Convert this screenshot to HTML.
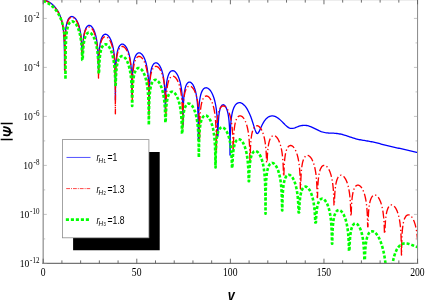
<!DOCTYPE html>
<html><head><meta charset="utf-8"><style>
html,body{margin:0;padding:0;background:#fff;}
svg{display:block;will-change:transform;opacity:0.999;}
.ser{font-family:"Liberation Serif",serif;fill:#000;}
.san{font-family:"Liberation Sans",sans-serif;fill:#000;}
</style></head><body>
<svg width="425" height="300" viewBox="0 0 425 300">
<rect width="425" height="300" fill="#fff"/>
<defs><clipPath id="c"><rect x="43.2" y="0" width="374.35" height="263.4"/></clipPath></defs>
<g clip-path="url(#c)" fill="none" stroke-linejoin="round">
<path d="M43.20 -0.49L44.25 -0.19L45.30 0.17L46.35 0.59L47.40 1.08L48.45 1.64L49.50 2.27L50.55 2.98L51.60 3.78L52.65 4.68L53.70 5.68L54.75 6.80L55.80 8.07L56.85 9.52L57.90 11.19L58.95 13.14L60.00 15.50L61.05 18.45L61.75 20.93L62.25 23.10L62.60 24.90L62.85 26.39L63.05 27.74L63.20 28.87L63.35 30.12L63.45 31.05L63.55 32.05L63.65 33.16L63.75 34.39L63.80 35.06L63.85 35.78L63.90 36.54L63.95 37.36L64.00 38.25L64.05 39.22L64.10 40.28L64.15 41.46L64.20 42.78L64.25 44.29L64.30 46.04L64.35 48.13L64.40 50.72L64.45 54.15L64.50 59.23L64.55 70.00L64.60 70.00L64.65 59.38L64.70 53.29L64.75 49.46L64.80 46.66L64.85 44.47L64.90 42.65L64.95 41.12L65.00 39.78L65.05 38.60L65.10 37.55L65.15 36.59L65.20 35.72L65.25 34.93L65.30 34.19L65.35 33.50L65.40 32.86L65.50 31.70L65.60 30.67L65.70 29.74L65.85 28.51L66.00 27.44L66.20 26.19L66.45 24.86L66.80 23.32L67.25 21.75L67.95 19.94L69.00 18.14L70.05 17.10L71.10 16.59L72.15 16.51L73.20 16.80L74.25 17.45L75.30 18.45L76.35 19.85L77.40 21.72L78.45 24.22L79.20 26.56L79.75 28.70L80.15 30.58L80.45 32.24L80.70 33.84L80.90 35.31L81.05 36.55L81.20 37.95L81.30 38.99L81.40 40.14L81.50 41.42L81.55 42.13L81.60 42.87L81.65 43.68L81.70 44.54L81.75 45.48L81.80 46.50L81.85 47.63L81.90 48.90L81.95 50.32L82.00 51.96L82.05 53.90L82.10 55.00L82.50 55.00L82.55 54.44L82.60 52.49L82.65 50.86L82.70 49.45L82.75 48.21L82.80 47.10L82.85 46.11L82.90 45.20L82.95 44.37L83.00 43.60L83.05 42.89L83.10 42.23L83.20 41.02L83.30 39.95L83.40 38.99L83.55 37.72L83.70 36.60L83.90 35.30L84.15 33.92L84.50 32.32L84.95 30.69L85.60 28.90L86.55 27.13L87.60 25.97L88.65 25.43L89.70 25.41L90.75 25.86L91.80 26.78L92.85 28.18L93.90 30.16L94.85 32.60L95.55 34.93L96.05 36.99L96.40 38.71L96.70 40.43L96.95 42.08L97.15 43.61L97.30 44.90L97.40 45.85L97.50 46.89L97.60 48.03L97.70 49.30L97.75 49.99L97.80 50.73L97.85 51.51L97.90 52.36L97.95 53.28L98.00 54.28L98.05 55.37L98.10 56.59L98.15 57.95L98.20 59.51L98.25 61.33L98.30 63.52L98.35 66.25L98.40 69.91L98.45 70.00L98.60 70.00L98.65 69.67L98.70 66.18L98.75 63.56L98.80 61.48L98.85 59.74L98.90 58.26L98.95 56.97L99.00 55.82L99.05 54.79L99.10 53.86L99.15 53.01L99.20 52.23L99.25 51.50L99.30 50.83L99.40 49.61L99.50 48.53L99.60 47.56L99.70 46.69L99.85 45.52L100.05 44.17L100.30 42.76L100.60 41.34L101.00 39.81L101.60 38.06L102.50 36.25L103.55 34.97L104.60 34.34L105.65 34.20L106.70 34.50L107.75 35.21L108.80 36.34L109.85 37.93L110.90 40.08L111.85 42.66L112.50 44.92L113.00 47.06L113.35 48.84L113.65 50.62L113.85 51.98L114.05 53.53L114.20 54.84L114.30 55.80L114.40 56.86L114.50 58.02L114.60 59.31L114.65 60.02L114.70 60.77L114.75 61.57L114.80 62.44L114.85 63.38L114.90 64.41L114.95 65.54L115.00 66.81L115.05 68.23L115.10 69.87L115.15 71.79L115.20 74.13L115.25 77.11L115.30 81.24L115.35 88.03L115.40 100.00L115.45 100.00L115.50 82.71L115.55 78.18L115.60 75.04L115.65 72.62L115.70 70.67L115.75 69.03L115.80 67.62L115.85 66.38L115.90 65.27L115.95 64.28L116.00 63.38L116.05 62.55L116.10 61.79L116.15 61.08L116.20 60.42L116.30 59.23L116.40 58.17L116.50 57.22L116.65 55.97L116.80 54.87L117.00 53.60L117.25 52.25L117.60 50.70L118.05 49.12L118.70 47.41L119.70 45.67L120.75 44.63L121.80 44.18L122.85 44.20L123.90 44.66L124.95 45.53L126.00 46.84L127.05 48.67L128.10 51.14L128.85 53.47L129.40 55.59L129.80 57.45L130.10 59.09L130.35 60.66L130.55 62.09L130.70 63.30L130.85 64.66L130.95 65.66L131.05 66.76L131.15 67.97L131.20 68.64L131.25 69.34L131.30 70.09L131.35 70.89L131.40 71.76L131.45 72.70L131.50 73.72L131.55 74.85L131.60 76.11L131.65 77.54L131.70 79.17L131.75 81.10L131.80 83.44L131.85 86.43L131.90 90.58L131.95 95.00L132.05 95.00L132.10 91.89L132.15 87.39L132.20 84.25L132.25 81.84L132.30 79.89L132.35 78.25L132.40 76.83L132.45 75.59L132.50 74.48L132.55 73.49L132.60 72.58L132.65 71.75L132.70 70.99L132.75 70.28L132.80 69.62L132.90 68.42L133.00 67.35L133.10 66.40L133.25 65.13L133.40 64.02L133.60 62.74L133.85 61.37L134.20 59.79L134.65 58.18L135.30 56.42L136.30 54.60L137.35 53.48L138.40 52.94L139.45 52.88L140.50 53.23L141.55 53.99L142.60 55.17L143.65 56.81L144.70 59.03L145.65 61.69L146.30 64.04L146.75 66.02L147.10 67.85L147.35 69.36L147.55 70.73L147.70 71.88L147.85 73.15L147.95 74.09L148.05 75.10L148.15 76.22L148.25 77.46L148.30 78.13L148.35 78.85L148.40 79.61L148.45 80.43L148.50 81.31L148.55 82.27L148.60 83.32L148.65 84.48L148.70 85.78L148.75 87.25L148.80 88.94L148.85 90.95L148.90 93.41L148.95 96.59L149.00 101.13L149.05 110.00L149.10 110.00L149.15 106.96L149.20 100.13L149.25 96.02L149.30 93.08L149.35 90.79L149.40 88.92L149.45 87.34L149.50 85.97L149.55 84.76L149.60 83.69L149.65 82.71L149.70 81.83L149.75 81.02L149.80 80.27L149.85 79.57L149.90 78.93L150.00 77.75L150.10 76.70L150.20 75.77L150.35 74.52L150.50 73.43L150.70 72.17L150.95 70.83L151.30 69.29L151.75 67.72L152.40 66.01L153.40 64.28L154.45 63.26L155.50 62.83L156.55 62.89L157.60 63.39L158.65 64.33L159.70 65.73L160.75 67.70L161.75 70.25L162.45 72.59L162.95 74.68L163.30 76.42L163.60 78.17L163.80 79.51L164.00 81.04L164.15 82.34L164.25 83.29L164.35 84.34L164.45 85.49L164.55 86.77L164.60 87.47L164.65 88.22L164.70 89.02L164.75 89.89L164.80 90.82L164.85 91.85L164.90 92.98L164.95 94.24L165.00 95.66L165.05 97.29L165.10 99.22L165.15 101.56L165.20 104.55L165.25 108.70L165.30 110.00L165.40 110.00L165.45 109.96L165.50 105.47L165.55 102.33L165.60 99.93L165.65 97.97L165.70 96.33L165.75 94.91L165.80 93.67L165.85 92.56L165.90 91.57L165.95 90.66L166.00 89.83L166.05 89.06L166.10 88.35L166.15 87.69L166.25 86.49L166.35 85.42L166.45 84.46L166.60 83.19L166.75 82.07L166.95 80.78L167.20 79.40L167.55 77.81L168.00 76.18L168.65 74.40L169.65 72.54L170.70 71.36L171.75 70.77L172.80 70.63L173.85 70.91L174.90 71.56L175.95 72.61L177.00 74.08L178.05 76.04L179.10 78.64L179.90 81.23L180.45 83.45L180.85 85.39L181.15 87.09L181.40 88.72L181.60 90.21L181.75 91.46L181.90 92.87L182.00 93.91L182.10 95.06L182.20 96.33L182.25 97.02L182.30 97.76L182.35 98.55L182.40 99.40L182.45 100.31L182.50 101.31L182.55 102.41L182.60 103.62L182.65 104.98L182.70 106.54L182.75 108.35L182.80 110.52L182.85 113.23L182.90 116.85L182.95 122.33L183.00 125.00L183.05 125.00L183.10 122.35L183.15 116.96L183.20 113.42L183.25 110.79L183.30 108.69L183.35 106.95L183.40 105.46L183.45 104.16L183.50 103.02L183.55 101.99L183.60 101.06L183.65 100.21L183.70 99.43L183.75 98.70L183.80 98.03L183.90 96.82L184.00 95.74L184.10 94.78L184.20 93.92L184.35 92.76L184.55 91.43L184.80 90.04L185.10 88.65L185.50 87.16L186.05 85.58L186.90 83.91L187.95 82.69L189.00 82.16L190.05 82.18L191.10 82.69L192.15 83.68L193.20 85.21L194.25 87.39L195.05 89.63L195.65 91.78L196.05 93.54L196.35 95.08L196.60 96.56L196.80 97.91L196.95 99.05L197.10 100.31L197.20 101.25L197.30 102.27L197.40 103.39L197.50 104.64L197.55 105.32L197.60 106.05L197.65 106.83L197.70 107.67L197.75 108.58L197.80 109.57L197.85 110.66L197.90 111.88L197.95 113.24L198.00 114.80L198.05 116.62L198.10 118.81L198.15 121.56L198.20 125.27L198.25 130.99L198.30 140.00L198.35 140.00L198.40 129.79L198.45 124.62L198.50 121.16L198.55 118.57L198.60 116.49L198.65 114.76L198.70 113.28L198.75 111.98L198.80 110.83L198.85 109.80L198.90 108.86L198.95 108.00L199.00 107.21L199.05 106.48L199.10 105.80L199.20 104.57L199.30 103.47L199.40 102.49L199.50 101.60L199.65 100.40L199.85 99.02L200.10 97.56L200.40 96.09L200.80 94.48L201.40 92.61L202.30 90.61L203.35 89.10L204.40 88.21L205.45 87.78L206.50 87.75L207.55 88.06L208.60 88.70L209.65 89.68L210.70 91.01L211.75 92.73L212.80 94.93L213.85 97.75L214.65 100.48L215.20 102.79L215.60 104.77L215.90 106.49L216.15 108.13L216.35 109.61L216.50 110.85L216.65 112.22L216.75 113.23L216.85 114.33L216.95 115.54L217.05 116.89L217.10 117.62L217.15 118.41L217.20 119.25L217.25 120.15L217.30 121.14L217.35 122.21L217.40 123.40L217.45 124.72L217.50 126.22L217.55 127.94L217.60 129.99L217.65 132.51L217.70 135.77L217.75 136.00L217.95 136.00L218.00 134.84L218.05 131.97L218.10 129.73L218.15 127.90L218.20 126.35L218.25 125.01L218.30 123.83L218.35 122.78L218.40 121.84L218.45 120.97L218.50 120.19L218.55 119.46L218.60 118.78L218.65 118.16L218.75 117.02L218.85 116.02L218.95 115.12L219.10 113.94L219.25 112.91L219.45 111.73L219.70 110.50L220.05 109.10L220.50 107.72L221.15 106.33L222.05 105.20L223.10 104.74L224.15 105.04L225.20 106.06L226.15 107.66L226.90 109.52L227.45 111.33L227.85 112.98L228.15 114.47L228.40 115.93L228.60 117.28L228.75 118.43L228.90 119.73L229.00 120.70L229.10 121.78L229.20 122.98L229.25 123.64L229.30 124.34L229.35 125.09L229.40 125.90L229.45 126.78L229.50 127.74L229.55 128.79L229.60 129.96L229.65 131.28L229.70 132.78L229.75 134.53L229.80 136.64L229.85 139.26L229.90 142.75L229.95 147.98L230.00 155.00L230.05 155.00L230.10 149.06L230.15 143.40L230.20 139.73L230.25 137.00L230.30 134.84L230.35 133.04L230.40 131.50L230.45 130.16L230.50 128.97L230.55 127.90L230.60 126.93L230.65 126.04L230.70 125.23L230.75 124.47L230.80 123.76L230.90 122.47L231.00 121.33L231.10 120.30L231.20 119.37L231.35 118.11L231.55 116.66L231.80 115.09L232.10 113.51L232.50 111.75L233.10 109.66L234.00 107.34L235.05 105.44L236.10 104.15L237.15 103.30L238.20 102.81L239.25 102.63L240.30 102.72L241.35 103.05L242.40 103.62L243.45 104.42L244.50 105.44L245.55 106.69L246.60 108.19L247.65 109.93L248.70 111.94L249.75 114.24L250.80 116.84L251.85 119.75L252.90 122.96L253.95 126.35L255.00 129.64L255.85 131.86L256.45 132.95L256.95 133.45L257.50 133.54L258.15 133.08L259.20 131.40L260.25 129.11L261.30 126.74L262.35 124.53L263.40 122.58L264.45 120.91L265.50 119.52L266.55 118.39L267.60 117.49L268.65 116.82L269.70 116.34L270.75 116.04L271.80 115.91L272.85 115.94L273.90 116.11L274.95 116.42L276.00 116.87L277.05 117.45L278.10 118.15L279.15 118.96L280.20 119.87L281.25 120.86L282.30 121.91L283.35 122.99L284.40 124.07L285.45 125.12L286.50 126.08L287.55 126.92L288.60 127.60L289.65 128.08L290.70 128.37L291.75 128.45L292.80 128.36L293.85 128.13L294.90 127.80L295.95 127.41L297.00 127.00L298.05 126.60L299.10 126.23L300.15 125.92L301.20 125.66L302.25 125.48L303.30 125.37L304.35 125.34L305.40 125.39L306.45 125.50L307.50 125.69L308.55 125.95L309.60 126.27L310.65 126.65L311.70 127.08L312.75 127.55L313.80 128.05L314.85 128.57L315.90 129.10L316.95 129.64L318.00 130.16L319.05 130.66L320.10 131.12L321.15 131.53L322.20 131.90L323.25 132.21L324.30 132.47L325.35 132.67L326.40 132.82L327.45 132.93L328.50 133.01L329.55 133.06L330.60 133.10L331.65 133.13L332.70 133.17L333.75 133.22L334.80 133.29L335.85 133.37L336.90 133.48L337.95 133.62L339.00 133.79L340.05 133.99L341.10 134.22L342.15 134.47L343.20 134.75L344.25 135.06L345.30 135.38L346.35 135.72L347.40 136.07L348.45 136.42L349.50 136.78L350.55 137.14L351.60 137.49L352.65 137.83L353.70 138.16L354.75 138.47L355.80 138.76L356.85 139.03L357.90 139.28L358.95 139.52L360.00 139.74L361.05 139.94L362.10 140.13L363.15 140.31L364.20 140.48L365.25 140.66L366.30 140.83L367.35 141.00L368.40 141.18L369.45 141.36L370.50 141.56L371.55 141.76L372.60 141.97L373.65 142.20L374.70 142.43L375.75 142.68L376.80 142.93L377.85 143.20L378.90 143.47L379.95 143.74L381.00 144.02L382.05 144.31L383.10 144.59L384.15 144.87L385.20 145.15L386.25 145.42L387.30 145.69L388.35 145.95L389.40 146.21L390.45 146.46L391.50 146.70L392.55 146.93L393.60 147.16L394.65 147.39L395.70 147.61L396.75 147.82L397.80 148.04L398.85 148.25L399.90 148.47L400.95 148.68L402.00 148.90L403.05 149.12L404.10 149.34L405.15 149.56L406.20 149.80L407.25 150.03L408.30 150.27L409.35 150.51L410.40 150.76L411.45 151.01L412.50 151.26L413.55 151.52L414.60 151.78L415.65 152.03L416.70 152.29L417.55 152.50" stroke="#0000ff" stroke-width="1.3"/>
<path d="M43.20 -0.00L44.25 0.31L45.30 0.69L46.35 1.13L47.40 1.63L48.45 2.21L49.50 2.85L50.55 3.57L51.60 4.37L52.65 5.26L53.70 6.26L54.75 7.37L55.80 8.62L56.85 10.04L57.90 11.66L58.95 13.55L60.00 15.79L61.05 18.55L61.85 21.20L62.40 23.43L62.80 25.38L63.10 27.09L63.35 28.74L63.55 30.26L63.70 31.55L63.80 32.50L63.90 33.54L64.00 34.68L64.10 35.96L64.15 36.66L64.20 37.41L64.25 38.21L64.30 39.07L64.35 40.01L64.40 41.04L64.45 42.17L64.50 43.44L64.55 44.87L64.60 46.53L64.65 48.48L64.70 50.87L64.75 53.94L64.80 58.27L64.85 65.66L64.90 72.00L64.95 72.00L65.00 55.03L65.05 50.75L65.10 47.72L65.15 45.38L65.20 43.48L65.25 41.87L65.30 40.48L65.35 39.26L65.40 38.18L65.45 37.20L65.50 36.31L65.55 35.49L65.60 34.74L65.65 34.04L65.70 33.40L65.80 32.22L65.90 31.17L66.00 30.23L66.15 28.99L66.30 27.91L66.50 26.65L66.75 25.32L67.10 23.78L67.55 22.22L68.20 20.53L69.25 18.73L70.30 17.72L71.35 17.25L72.40 17.24L73.45 17.61L74.50 18.36L75.55 19.50L76.60 21.07L77.65 23.16L78.65 25.82L79.35 28.23L79.85 30.36L80.20 32.14L80.45 33.61L80.65 34.95L80.85 36.46L81.00 37.73L81.10 38.67L81.20 39.70L81.30 40.83L81.40 42.08L81.45 42.76L81.50 43.49L81.55 44.26L81.60 45.10L81.65 46.00L81.70 46.98L81.75 48.06L81.80 49.25L81.85 50.59L81.90 52.12L81.95 53.89L82.00 56.00L82.45 56.00L82.50 54.56L82.55 52.78L82.60 51.26L82.65 49.94L82.70 48.77L82.75 47.73L82.80 46.78L82.85 45.92L82.90 45.12L82.95 44.38L83.00 43.70L83.10 42.46L83.20 41.37L83.30 40.39L83.40 39.50L83.55 38.32L83.75 36.96L84.00 35.52L84.30 34.09L84.70 32.53L85.25 30.88L86.10 29.08L87.15 27.72L88.20 27.04L89.25 26.89L90.30 27.22L91.35 28.00L92.40 29.25L93.45 31.01L94.50 33.43L95.30 35.86L95.90 38.15L96.30 40.00L96.60 41.62L96.85 43.17L97.05 44.58L97.20 45.75L97.35 47.07L97.45 48.03L97.55 49.09L97.65 50.25L97.75 51.54L97.80 52.24L97.85 52.99L97.90 53.79L97.95 54.66L98.00 55.60L98.05 56.62L98.10 57.75L98.15 59.00L98.20 60.41L98.25 62.03L98.30 63.93L98.35 66.24L98.40 69.16L98.45 73.18L98.50 78.00L98.60 78.00L98.65 75.44L98.70 70.77L98.75 67.55L98.80 65.09L98.85 63.11L98.90 61.45L98.95 60.03L99.00 58.78L99.05 57.66L99.10 56.66L99.15 55.76L99.20 54.92L99.25 54.16L99.30 53.45L99.35 52.79L99.45 51.59L99.55 50.53L99.65 49.58L99.80 48.32L99.95 47.23L100.15 45.95L100.40 44.61L100.75 43.06L101.20 41.48L101.85 39.78L102.85 38.05L103.90 37.03L104.95 36.59L106.00 36.62L107.05 37.08L108.10 37.94L109.15 39.23L110.20 41.01L111.25 43.39L112.10 45.93L112.70 48.20L113.15 50.27L113.45 51.90L113.70 53.45L113.90 54.87L114.05 56.06L114.20 57.39L114.30 58.36L114.40 59.43L114.50 60.61L114.60 61.93L114.65 62.65L114.70 63.42L114.75 64.24L114.80 65.13L114.85 66.10L114.90 67.16L114.95 68.33L115.00 69.64L115.05 71.13L115.10 72.85L115.15 74.89L115.20 77.40L115.25 80.68L115.30 85.41L115.35 113.75L115.40 113.75L115.45 89.81L115.50 83.39L115.55 79.43L115.60 76.57L115.65 74.33L115.70 72.49L115.75 70.93L115.80 69.58L115.85 68.38L115.90 67.32L115.95 66.36L116.00 65.48L116.05 64.68L116.10 63.93L116.15 63.24L116.20 62.60L116.30 61.43L116.40 60.39L116.50 59.46L116.65 58.22L116.80 57.14L117.00 55.88L117.25 54.54L117.60 53.00L118.05 51.43L118.70 49.74L119.70 48.00L120.75 46.97L121.80 46.51L122.85 46.54L123.90 46.99L124.95 47.85L126.00 49.14L127.05 50.92L128.10 53.32L128.95 55.88L129.55 58.16L129.95 60.00L130.30 61.90L130.55 63.47L130.75 64.91L130.90 66.12L131.05 67.46L131.15 68.46L131.25 69.55L131.35 70.76L131.45 72.10L131.50 72.84L131.55 73.63L131.60 74.48L131.65 75.40L131.70 76.41L131.75 77.51L131.80 78.73L131.85 80.11L131.90 81.68L131.95 83.52L132.00 85.72L132.05 88.49L132.10 92.23L132.15 97.99L132.20 100.00L132.25 100.00L132.30 96.66L132.35 91.52L132.40 88.09L132.45 85.52L132.50 83.45L132.55 81.74L132.60 80.27L132.65 78.98L132.70 77.85L132.75 76.82L132.80 75.90L132.85 75.05L132.90 74.27L132.95 73.55L133.00 72.88L133.10 71.66L133.20 70.59L133.30 69.63L133.40 68.76L133.55 67.60L133.75 66.26L134.00 64.85L134.30 63.44L134.70 61.92L135.30 60.17L136.20 58.38L137.25 57.12L138.30 56.50L139.35 56.38L140.40 56.70L141.45 57.43L142.50 58.59L143.55 60.20L144.60 62.39L145.55 65.02L146.20 67.33L146.65 69.27L147.00 71.06L147.30 72.84L147.50 74.21L147.70 75.76L147.85 77.08L147.95 78.05L148.05 79.11L148.15 80.28L148.25 81.58L148.30 82.29L148.35 83.05L148.40 83.87L148.45 84.74L148.50 85.70L148.55 86.74L148.60 87.88L148.65 89.16L148.70 90.61L148.75 92.28L148.80 94.25L148.85 96.65L148.90 99.74L148.95 104.08L149.00 111.48L149.05 115.00L149.10 115.00L149.15 104.20L149.20 99.91L149.25 96.88L149.30 94.54L149.35 92.63L149.40 91.02L149.45 89.63L149.50 88.41L149.55 87.32L149.60 86.34L149.65 85.45L149.70 84.63L149.75 83.88L149.80 83.18L149.85 82.52L149.95 81.34L150.05 80.29L150.15 79.35L150.30 78.10L150.45 77.00L150.65 75.74L150.90 74.39L151.25 72.84L151.70 71.27L152.35 69.56L153.35 67.82L154.40 66.77L155.45 66.32L156.50 66.34L157.55 66.78L158.60 67.64L159.65 68.93L160.70 70.70L161.75 73.09L162.60 75.64L163.20 77.92L163.65 80.00L163.95 81.64L164.20 83.21L164.40 84.63L164.55 85.83L164.70 87.17L164.80 88.16L164.90 89.24L165.00 90.43L165.10 91.76L165.15 92.49L165.20 93.27L165.25 94.11L165.30 95.01L165.35 96.00L165.40 97.08L165.45 98.28L165.50 99.62L165.55 101.15L165.60 102.92L165.65 105.04L165.70 107.68L165.75 111.17L165.80 116.37L165.85 118.00L165.90 118.00L165.95 117.88L166.00 112.17L166.05 108.49L166.10 105.78L166.15 103.63L166.20 101.86L166.25 100.34L166.30 99.03L166.35 97.86L166.40 96.82L166.45 95.88L166.50 95.01L166.55 94.22L166.60 93.49L166.65 92.81L166.75 91.58L166.85 90.49L166.95 89.52L167.05 88.64L167.20 87.47L167.40 86.12L167.65 84.70L167.95 83.28L168.35 81.75L168.95 80.00L169.80 78.28L170.85 76.97L171.90 76.32L172.95 76.18L174.00 76.47L175.05 77.18L176.10 78.31L177.15 79.90L178.20 82.05L179.15 84.63L179.80 86.89L180.30 89.02L180.65 90.80L180.95 92.58L181.15 93.94L181.35 95.48L181.50 96.79L181.60 97.75L181.70 98.80L181.80 99.96L181.90 101.25L181.95 101.95L182.00 102.70L182.05 103.50L182.10 104.36L182.15 105.30L182.20 106.32L182.25 107.44L182.30 108.69L182.35 110.11L182.40 111.72L182.45 113.62L182.50 115.92L182.55 118.85L182.60 122.86L182.65 128.00L182.75 128.00L182.80 125.11L182.85 120.44L182.90 117.22L182.95 114.77L183.00 112.79L183.05 111.12L183.10 109.70L183.15 108.45L183.20 107.33L183.25 106.33L183.30 105.42L183.35 104.59L183.40 103.82L183.45 103.11L183.50 102.45L183.60 101.25L183.70 100.19L183.80 99.24L183.95 97.97L184.10 96.87L184.30 95.60L184.55 94.24L184.90 92.68L185.35 91.10L186.00 89.38L187.00 87.63L188.05 86.58L189.10 86.12L190.15 86.13L191.20 86.58L192.25 87.43L193.30 88.71L194.35 90.48L195.40 92.87L196.25 95.41L196.85 97.68L197.30 99.75L197.60 101.38L197.85 102.94L198.05 104.36L198.20 105.55L198.35 106.88L198.45 107.85L198.55 108.92L198.65 110.10L198.75 111.42L198.80 112.14L198.85 112.91L198.90 113.74L198.95 114.63L199.00 115.60L199.05 116.66L199.10 117.83L199.15 119.14L199.20 120.62L199.25 122.34L199.30 124.39L199.35 126.90L199.40 130.18L199.45 134.91L199.50 140.00L199.55 140.00L199.60 139.31L199.65 132.89L199.70 128.93L199.75 126.07L199.80 123.83L199.85 121.99L199.90 120.43L199.95 119.08L200.00 117.88L200.05 116.82L200.10 115.86L200.15 114.98L200.20 114.18L200.25 113.43L200.30 112.74L200.35 112.10L200.45 110.93L200.55 109.89L200.65 108.96L200.80 107.72L200.95 106.64L201.15 105.38L201.40 104.04L201.75 102.50L202.20 100.93L202.85 99.24L203.85 97.50L204.90 96.47L205.95 96.01L207.00 96.04L208.05 96.49L209.10 97.35L210.15 98.64L211.20 100.42L212.25 102.82L213.10 105.38L213.70 107.66L214.10 109.50L214.45 111.40L214.70 112.97L214.90 114.41L215.05 115.62L215.20 116.96L215.30 117.96L215.40 119.05L215.50 120.26L215.60 121.60L215.65 122.34L215.70 123.13L215.75 123.98L215.80 124.90L215.85 125.91L215.90 127.01L215.95 128.23L216.00 129.61L216.05 131.18L216.10 133.02L216.15 135.22L216.20 137.99L216.25 141.73L216.30 147.49L216.35 150.00L216.40 150.00L216.45 146.16L216.50 141.02L216.55 137.59L216.60 135.02L216.65 132.95L216.70 131.24L216.75 129.77L216.80 128.48L216.85 127.35L216.90 126.32L216.95 125.40L217.00 124.55L217.05 123.77L217.10 123.05L217.15 122.38L217.25 121.16L217.35 120.09L217.45 119.13L217.55 118.26L217.70 117.10L217.90 115.76L218.15 114.35L218.45 112.94L218.85 111.42L219.45 109.67L220.35 107.88L221.40 106.62L222.45 106.00L223.50 105.88L224.55 106.20L225.60 106.93L226.65 108.09L227.70 109.70L228.75 111.89L229.70 114.52L230.35 116.83L230.80 118.77L231.15 120.56L231.45 122.34L231.65 123.71L231.85 125.26L232.00 126.58L232.10 127.55L232.20 128.61L232.30 129.78L232.40 131.08L232.45 131.79L232.50 132.55L232.55 133.37L232.60 134.24L232.65 135.20L232.70 136.24L232.75 137.38L232.80 138.66L232.85 140.11L232.90 141.78L232.95 143.75L233.00 146.15L233.05 149.24L233.10 150.00L233.30 150.00L233.35 149.41L233.40 146.38L233.45 144.04L233.50 142.13L233.55 140.52L233.60 139.13L233.65 137.91L233.70 136.82L233.75 135.84L233.80 134.95L233.85 134.13L233.90 133.38L233.95 132.68L234.00 132.02L234.10 130.84L234.20 129.79L234.30 128.85L234.45 127.60L234.60 126.50L234.80 125.24L235.05 123.89L235.40 122.34L235.85 120.77L236.50 119.06L237.50 117.32L238.55 116.27L239.60 115.82L240.65 115.84L241.70 116.28L242.75 117.14L243.80 118.43L244.85 120.20L245.90 122.59L246.75 125.14L247.35 127.42L247.80 129.50L248.10 131.14L248.35 132.71L248.55 134.13L248.70 135.33L248.85 136.67L248.95 137.66L249.05 138.74L249.15 139.93L249.25 141.26L249.30 141.99L249.35 142.77L249.40 143.61L249.45 144.51L249.50 145.50L249.55 146.58L249.60 147.78L249.65 149.12L249.70 150.65L249.75 152.42L249.80 154.54L249.85 157.18L249.90 160.00L250.15 160.00L250.20 157.99L250.25 155.28L250.30 153.13L250.35 151.36L250.40 149.84L250.45 148.53L250.50 147.36L250.55 146.32L250.60 145.38L250.65 144.51L250.70 143.72L250.75 142.99L250.80 142.31L250.90 141.08L251.00 139.99L251.10 139.02L251.20 138.14L251.35 136.97L251.55 135.62L251.80 134.20L252.10 132.78L252.50 131.25L253.10 129.50L253.95 127.78L255.00 126.47L256.05 125.82L257.10 125.68L258.15 125.97L259.20 126.68L260.25 127.81L261.30 129.40L262.35 131.55L263.30 134.13L263.95 136.39L264.45 138.52L264.80 140.30L265.10 142.08L265.30 143.44L265.50 144.98L265.65 146.29L265.75 147.25L265.85 148.30L265.95 149.46L266.05 150.75L266.10 151.45L266.15 152.20L266.20 153.00L266.25 153.86L266.30 154.80L266.35 155.82L266.40 156.94L266.45 158.19L266.50 159.61L266.55 161.22L266.60 162.50L267.10 162.50L267.15 162.29L267.20 160.62L267.25 159.20L267.30 157.95L267.35 156.83L267.40 155.83L267.45 154.92L267.50 154.09L267.55 153.32L267.60 152.61L267.65 151.95L267.75 150.75L267.85 149.69L267.95 148.74L268.10 147.47L268.25 146.37L268.45 145.10L268.70 143.74L269.05 142.18L269.50 140.60L270.15 138.88L271.15 137.13L272.20 136.08L273.25 135.62L274.30 135.63L275.35 136.08L276.40 136.93L277.45 138.21L278.50 139.98L279.55 142.37L280.40 144.91L281.00 147.18L281.45 149.25L281.75 150.88L282.00 152.44L282.20 153.86L282.35 155.05L282.50 156.38L282.60 157.35L282.70 158.42L282.80 159.60L282.90 160.92L282.95 161.64L283.00 162.41L283.05 163.24L283.10 164.13L283.15 165.10L283.20 166.16L283.25 167.33L283.30 168.64L283.35 170.12L283.40 171.84L283.45 173.89L283.50 176.00L283.85 176.00L283.90 175.57L283.95 173.33L284.00 171.49L284.05 169.93L284.10 168.58L284.15 167.38L284.20 166.32L284.25 165.36L284.30 164.48L284.35 163.68L284.40 162.93L284.45 162.24L284.50 161.60L284.60 160.43L284.70 159.39L284.80 158.46L284.95 157.22L285.10 156.14L285.30 154.88L285.55 153.54L285.90 152.00L286.35 150.43L287.00 148.74L288.00 147.00L289.05 145.97L290.10 145.51L291.15 145.54L292.20 145.99L293.25 146.85L294.30 148.14L295.35 149.92L296.40 152.32L297.25 154.88L297.85 157.16L298.25 159.00L298.60 160.90L298.85 162.47L299.05 163.91L299.20 165.12L299.35 166.46L299.45 167.46L299.55 168.55L299.65 169.76L299.75 171.10L299.80 171.84L299.85 172.63L299.90 173.48L299.95 174.40L300.00 175.41L300.05 176.51L300.10 177.73L300.15 179.11L300.20 180.68L300.25 182.52L300.30 184.72L300.35 187.49L300.40 188.75L300.65 188.75L300.70 187.09L300.75 184.52L300.80 182.45L300.85 180.74L300.90 179.27L300.95 177.98L301.00 176.85L301.05 175.82L301.10 174.90L301.15 174.05L301.20 173.27L301.25 172.55L301.30 171.88L301.40 170.66L301.50 169.59L301.60 168.63L301.70 167.76L301.85 166.60L302.05 165.26L302.30 163.85L302.60 162.44L303.00 160.92L303.60 159.17L304.50 157.38L305.55 156.12L306.60 155.50L307.65 155.38L308.70 155.70L309.75 156.43L310.80 157.59L311.85 159.20L312.90 161.39L313.85 164.02L314.50 166.33L314.95 168.27L315.30 170.06L315.60 171.84L315.80 173.21L316.00 174.76L316.15 176.08L316.25 177.05L316.35 178.11L316.45 179.28L316.55 180.58L316.60 181.29L316.65 182.05L316.70 182.87L316.75 183.74L316.80 184.70L316.85 185.74L316.90 186.88L316.95 188.16L317.00 189.61L317.05 191.28L317.10 193.25L317.15 195.65L317.20 197.50L317.50 197.50L317.55 195.88L317.60 193.54L317.65 191.63L317.70 190.02L317.75 188.63L317.80 187.41L317.85 186.32L317.90 185.34L317.95 184.45L318.00 183.63L318.05 182.88L318.10 182.18L318.15 181.52L318.25 180.34L318.35 179.29L318.45 178.35L318.60 177.10L318.75 176.00L318.95 174.74L319.20 173.39L319.55 171.84L320.00 170.27L320.65 168.56L321.65 166.82L322.70 165.77L323.75 165.32L324.80 165.34L325.85 165.78L326.90 166.64L327.95 167.93L329.00 169.70L330.05 172.09L330.90 174.64L331.50 176.92L331.95 179.00L332.25 180.64L332.50 182.21L332.70 183.63L332.85 184.83L333.00 186.17L333.10 187.16L333.20 188.24L333.30 189.43L333.40 190.76L333.45 191.49L333.50 192.27L333.55 193.11L333.60 194.01L333.65 195.00L333.70 196.08L333.75 197.28L333.80 198.62L333.85 200.15L333.90 201.92L333.95 204.04L334.00 205.00L334.35 205.00L334.40 204.78L334.45 202.63L334.50 200.86L334.55 199.34L334.60 198.03L334.65 196.86L334.70 195.82L334.75 194.88L334.80 194.01L334.85 193.22L334.90 192.49L334.95 191.81L335.05 190.58L335.15 189.49L335.25 188.52L335.35 187.64L335.50 186.47L335.70 185.12L335.95 183.70L336.25 182.28L336.65 180.75L337.25 179.00L338.10 177.28L339.15 175.97L340.20 175.32L341.25 175.18L342.30 175.47L343.35 176.18L344.40 177.31L345.45 178.90L346.50 181.05L347.45 183.63L348.10 185.89L348.60 188.02L348.95 189.80L349.25 191.58L349.45 192.94L349.65 194.48L349.80 195.79L349.90 196.75L350.00 197.80L350.10 198.96L350.20 200.25L350.25 200.95L350.30 201.70L350.35 202.50L350.40 203.36L350.45 204.30L350.50 205.32L350.55 206.44L350.60 207.69L350.65 209.11L350.70 210.72L350.75 212.62L350.80 214.92L350.85 216.00L351.20 216.00L351.25 213.77L351.30 211.79L351.35 210.12L351.40 208.70L351.45 207.45L351.50 206.33L351.55 205.33L351.60 204.42L351.65 203.59L351.70 202.82L351.75 202.11L351.80 201.45L351.90 200.25L352.00 199.19L352.10 198.24L352.25 196.97L352.40 195.87L352.60 194.60L352.85 193.24L353.20 191.68L353.65 190.10L354.30 188.38L355.30 186.63L356.35 185.58L357.40 185.12L358.45 185.13L359.50 185.58L360.55 186.43L361.60 187.71L362.65 189.48L363.70 191.87L364.55 194.41L365.15 196.68L365.60 198.75L365.90 200.38L366.15 201.94L366.35 203.36L366.50 204.55L366.65 205.88L366.75 206.85L366.85 207.92L366.95 209.10L367.05 210.42L367.10 211.14L367.15 211.91L367.20 212.74L367.25 213.63L367.30 214.60L367.35 215.66L367.40 216.83L367.45 218.14L367.50 219.62L367.55 221.34L367.60 223.39L367.65 225.90L367.70 226.70L368.00 226.70L368.05 225.07L368.10 222.83L368.15 220.99L368.20 219.43L368.25 218.08L368.30 216.88L368.35 215.82L368.40 214.86L368.45 213.98L368.50 213.18L368.55 212.43L368.60 211.74L368.65 211.10L368.75 209.93L368.85 208.89L368.95 207.96L369.10 206.72L369.25 205.64L369.45 204.38L369.70 203.04L370.05 201.50L370.50 199.93L371.15 198.24L372.15 196.50L373.20 195.47L374.25 195.01L375.30 195.04L376.35 195.49L377.40 196.35L378.45 197.64L379.50 199.42L380.55 201.82L381.40 204.38L382.00 206.66L382.40 208.50L382.75 210.40L383.00 211.97L383.20 213.41L383.35 214.62L383.50 215.96L383.60 216.96L383.70 218.05L383.80 219.26L383.90 220.60L383.95 221.34L384.00 222.13L384.05 222.98L384.10 223.90L384.15 224.91L384.20 226.01L384.25 227.23L384.30 228.61L384.35 230.18L384.40 232.02L384.45 233.50L384.90 233.50L384.95 231.95L385.00 230.24L385.05 228.77L385.10 227.48L385.15 226.35L385.20 225.32L385.25 224.40L385.30 223.55L385.35 222.77L385.40 222.05L385.45 221.38L385.55 220.16L385.65 219.09L385.75 218.13L385.85 217.26L386.00 216.10L386.20 214.76L386.45 213.35L386.75 211.94L387.15 210.42L387.75 208.67L388.65 206.88L389.70 205.62L390.75 205.00L391.80 204.88L392.85 205.20L393.90 205.93L394.95 207.09L396.00 208.70L397.05 210.89L398.00 213.52L398.65 215.83L399.10 217.77L399.45 219.56L399.75 221.34L399.95 222.71L400.15 224.26L400.30 225.58L400.40 226.55L400.50 227.61L400.60 228.78L400.70 230.08L400.75 230.79L400.80 231.55L400.85 232.37L400.90 233.24L400.95 234.20L401.00 235.24L401.05 236.38L401.10 237.66L401.15 239.11L401.20 240.78L401.25 242.75L401.30 245.15L401.35 248.24L401.40 252.58L401.45 255.00L401.55 255.00L401.60 252.70L401.65 248.41L401.70 245.38L401.75 243.04L401.80 241.13L401.85 239.52L401.90 238.13L401.95 236.91L402.00 235.82L402.05 234.84L402.10 233.95L402.15 233.13L402.20 232.38L402.25 231.68L402.30 231.02L402.40 229.84L402.50 228.79L402.60 227.85L402.75 226.60L402.90 225.50L403.10 224.24L403.35 222.89L403.70 221.34L404.15 219.77L404.80 218.06L405.80 216.32L406.85 215.27L407.90 214.82L408.95 214.84L410.00 215.28L411.05 216.14L412.10 217.43L413.15 219.20L414.20 221.59L415.05 224.14L415.65 226.42L416.10 228.50L416.40 230.14L416.65 231.71L416.85 233.13L417.00 234.33L417.15 235.67L417.25 236.66L417.35 237.74L417.45 238.93L417.55 240.26" stroke="#ff0000" stroke-width="1.35" stroke-dasharray="8 2.5 1.3 2.5"/>
<path d="M43.20 1.00L44.25 1.38L45.30 1.81L46.35 2.30L47.40 2.86L48.45 3.48L49.50 4.16L50.55 4.92L51.60 5.75L52.65 6.67L53.70 7.69L54.75 8.81L55.80 10.05L56.85 11.44L57.90 13.01L58.95 14.81L60.00 16.90L61.05 19.41L62.10 22.55L62.75 24.98L63.20 27.01L63.55 28.87L63.80 30.41L64.00 31.80L64.15 32.96L64.30 34.26L64.40 35.22L64.50 36.27L64.60 37.42L64.70 38.70L64.75 39.41L64.80 40.16L64.85 40.96L64.90 41.83L64.95 42.77L65.00 43.80L65.05 44.94L65.10 46.21L65.15 47.64L65.20 49.30L65.25 51.26L65.30 53.65L65.35 56.72L65.40 61.05L65.45 79.50L65.50 79.50L65.55 65.42L65.60 58.08L65.65 53.81L65.70 50.79L65.75 48.46L65.80 46.56L65.85 44.96L65.90 43.58L65.95 42.37L66.00 41.29L66.05 40.32L66.10 39.44L66.15 38.63L66.20 37.89L66.25 37.20L66.30 36.56L66.40 35.39L66.50 34.36L66.60 33.44L66.75 32.22L66.90 31.16L67.10 29.94L67.35 28.64L67.70 27.16L68.15 25.67L68.80 24.09L69.80 22.53L70.85 21.65L71.90 21.35L72.95 21.50L74.00 22.05L75.05 22.98L76.10 24.32L77.15 26.11L78.20 28.48L79.10 31.14L79.70 33.37L80.15 35.40L80.50 37.26L80.75 38.81L80.95 40.21L81.10 41.38L81.25 42.68L81.35 43.64L81.45 44.68L81.55 45.83L81.65 47.11L81.70 47.80L81.75 48.54L81.80 49.33L81.85 50.19L81.90 51.11L81.95 52.11L82.00 53.22L82.05 54.44L82.10 55.82L82.15 57.39L82.20 59.23L82.25 60.00L82.70 60.00L82.75 59.18L82.80 57.47L82.85 56.00L82.90 54.72L82.95 53.58L83.00 52.56L83.05 51.64L83.10 50.79L83.15 50.01L83.20 49.29L83.25 48.62L83.35 47.41L83.45 46.34L83.55 45.38L83.65 44.52L83.80 43.36L84.00 42.03L84.25 40.63L84.55 39.23L84.95 37.73L85.55 36.02L86.40 34.36L87.45 33.15L88.50 32.61L89.55 32.60L90.60 33.07L91.65 33.98L92.70 35.36L93.75 37.26L94.80 39.81L95.60 42.34L96.15 44.51L96.60 46.64L96.90 48.31L97.15 49.90L97.35 51.34L97.50 52.56L97.65 53.90L97.75 54.90L97.85 55.98L97.95 57.18L98.05 58.51L98.10 59.24L98.15 60.01L98.20 60.84L98.25 61.74L98.30 62.72L98.35 63.79L98.40 64.97L98.45 66.28L98.50 67.78L98.55 69.51L98.60 71.55L98.65 73.75L99.00 73.75L99.05 73.31L99.10 71.07L99.15 69.24L99.20 67.69L99.25 66.34L99.30 65.16L99.35 64.10L99.40 63.14L99.45 62.27L99.50 61.47L99.55 60.74L99.60 60.06L99.65 59.42L99.75 58.26L99.85 57.24L99.95 56.32L100.10 55.11L100.25 54.05L100.45 52.82L100.70 51.52L101.05 50.03L101.50 48.53L102.15 46.93L103.15 45.35L104.20 44.48L105.25 44.19L106.30 44.38L107.35 45.00L108.40 46.04L109.45 47.51L110.50 49.49L111.55 52.12L112.35 54.72L112.90 56.94L113.30 58.87L113.60 60.56L113.85 62.17L114.05 63.64L114.20 64.87L114.35 66.25L114.45 67.26L114.55 68.38L114.65 69.61L114.70 70.27L114.75 70.98L114.80 71.74L114.85 72.54L114.90 73.41L114.95 74.36L115.00 75.38L115.05 76.51L115.10 77.77L115.15 79.19L115.20 80.81L115.25 82.72L115.30 85.00L115.70 85.00L115.75 83.92L115.80 81.95L115.85 80.29L115.90 78.87L115.95 77.62L116.00 76.52L116.05 75.52L116.10 74.62L116.15 73.79L116.20 73.03L116.25 72.33L116.30 71.67L116.40 70.49L116.50 69.44L116.60 68.50L116.75 67.25L116.90 66.17L117.10 64.92L117.35 63.60L117.70 62.08L118.15 60.56L118.80 58.92L119.80 57.31L120.85 56.40L121.90 56.09L122.95 56.25L124.00 56.85L125.05 57.87L126.10 59.34L127.15 61.31L128.20 63.92L129.00 66.50L129.55 68.71L129.95 70.63L130.25 72.30L130.50 73.89L130.70 75.35L130.85 76.56L131.00 77.92L131.10 78.92L131.20 80.01L131.30 81.21L131.40 82.56L131.45 83.29L131.50 84.08L131.55 84.92L131.60 85.84L131.65 86.83L131.70 87.91L131.75 89.12L131.80 90.47L131.85 92.00L131.90 93.78L131.95 95.91L132.00 98.55L132.05 102.05L132.10 106.00L132.25 106.00L132.30 103.08L132.35 99.41L132.40 96.70L132.45 94.56L132.50 92.79L132.55 91.28L132.60 89.97L132.65 88.81L132.70 87.78L132.75 86.84L132.80 85.98L132.85 85.20L132.90 84.47L132.95 83.80L133.05 82.58L133.15 81.51L133.25 80.55L133.35 79.68L133.50 78.53L133.70 77.21L133.95 75.82L134.25 74.44L134.65 72.96L135.25 71.28L136.10 69.67L137.15 68.51L138.20 68.01L139.25 68.01L140.30 68.47L141.35 69.34L142.40 70.64L143.45 72.42L144.50 74.78L145.40 77.43L146.05 79.85L146.50 81.89L146.85 83.76L147.10 85.30L147.30 86.69L147.50 88.26L147.65 89.60L147.75 90.58L147.85 91.65L147.95 92.83L148.05 94.15L148.10 94.86L148.15 95.63L148.20 96.45L148.25 97.33L148.30 98.29L148.35 99.34L148.40 100.49L148.45 101.78L148.50 103.23L148.55 104.90L148.60 106.88L148.65 109.29L148.70 112.38L148.75 116.73L148.80 124.14L148.85 125.00L148.90 125.00L148.95 116.87L149.00 112.60L149.05 109.57L149.10 107.23L149.15 105.33L149.20 103.73L149.25 102.35L149.30 101.13L149.35 100.05L149.40 99.07L149.45 98.19L149.50 97.38L149.55 96.63L149.60 95.93L149.65 95.29L149.75 94.12L149.85 93.08L149.95 92.15L150.10 90.92L150.25 89.84L150.45 88.60L150.70 87.29L151.05 85.79L151.50 84.27L152.15 82.64L153.15 81.04L154.20 80.14L155.25 79.83L156.30 80.00L157.35 80.60L158.40 81.63L159.45 83.09L160.50 85.07L161.55 87.69L162.35 90.28L162.90 92.49L163.30 94.42L163.60 96.10L163.85 97.70L164.05 99.16L164.20 100.39L164.35 101.75L164.45 102.76L164.55 103.86L164.65 105.08L164.75 106.44L164.80 107.19L164.85 107.98L164.90 108.84L164.95 109.77L165.00 110.78L165.05 111.89L165.10 113.11L165.15 114.50L165.20 116.07L165.25 117.92L165.30 120.13L165.35 122.50L165.70 122.50L165.75 119.98L165.80 117.92L165.85 116.21L165.90 114.75L165.95 113.47L166.00 112.34L166.05 111.32L166.10 110.40L166.15 109.56L166.20 108.79L166.25 108.07L166.30 107.41L166.40 106.21L166.50 105.15L166.60 104.20L166.70 103.34L166.85 102.20L167.05 100.88L167.30 99.50L167.60 98.13L168.00 96.66L168.60 95.00L169.50 93.33L170.55 92.21L171.60 91.74L172.65 91.77L173.70 92.24L174.75 93.14L175.80 94.47L176.85 96.28L177.90 98.68L178.80 101.37L179.40 103.63L179.85 105.68L180.20 107.55L180.45 109.10L180.65 110.50L180.80 111.67L180.95 112.97L181.05 113.92L181.15 114.95L181.25 116.09L181.35 117.34L181.40 118.03L181.45 118.75L181.50 119.53L181.55 120.36L181.60 121.26L181.65 122.23L181.70 123.30L181.75 124.48L181.80 125.79L181.85 127.29L181.90 129.01L181.95 131.06L182.00 133.58L182.05 133.75L182.35 133.75L182.40 132.80L182.45 130.56L182.50 128.73L182.55 127.18L182.60 125.83L182.65 124.65L182.70 123.59L182.75 122.63L182.80 121.76L182.85 120.96L182.90 120.22L182.95 119.54L183.00 118.90L183.10 117.75L183.20 116.72L183.30 115.80L183.45 114.58L183.60 113.52L183.80 112.29L184.05 110.98L184.40 109.49L184.85 107.98L185.50 106.36L186.50 104.76L187.55 103.87L188.60 103.57L189.65 103.74L190.70 104.35L191.75 105.38L192.80 106.85L193.85 108.83L194.90 111.46L195.70 114.06L196.25 116.28L196.65 118.21L196.95 119.90L197.20 121.51L197.40 122.98L197.55 124.21L197.70 125.59L197.80 126.61L197.90 127.72L198.00 128.95L198.05 129.62L198.10 130.33L198.15 131.08L198.20 131.89L198.25 132.76L198.30 133.70L198.35 134.73L198.40 135.86L198.45 137.12L198.50 138.54L198.55 140.16L198.60 142.07L198.65 144.37L198.70 147.30L198.75 151.32L198.80 157.50L198.90 157.50L198.95 153.60L199.00 148.93L199.05 145.72L199.10 143.27L199.15 141.29L199.20 139.64L199.25 138.22L199.30 136.97L199.35 135.87L199.40 134.87L199.45 133.97L199.50 133.14L199.55 132.38L199.60 131.68L199.65 131.02L199.75 129.84L199.85 128.79L199.95 127.85L200.10 126.60L200.25 125.52L200.45 124.27L200.70 122.95L201.05 121.43L201.50 119.91L202.15 118.27L203.15 116.66L204.20 115.75L205.25 115.44L206.30 115.60L207.35 116.20L208.40 117.22L209.45 118.69L210.50 120.66L211.55 123.27L212.35 125.85L212.90 128.06L213.30 129.98L213.60 131.65L213.85 133.24L214.05 134.70L214.20 135.91L214.35 137.27L214.45 138.27L214.55 139.36L214.65 140.56L214.75 141.91L214.80 142.64L214.85 143.43L214.90 144.27L214.95 145.19L215.00 146.18L215.05 147.26L215.10 148.47L215.15 149.81L215.20 151.35L215.25 153.13L215.30 155.26L215.35 157.90L215.40 161.40L215.45 166.59L215.50 167.50L215.60 167.50L215.65 162.43L215.70 158.76L215.75 156.05L215.80 153.91L215.85 152.14L215.90 150.63L215.95 149.32L216.00 148.17L216.05 147.13L216.10 146.19L216.15 145.34L216.20 144.55L216.25 143.82L216.30 143.15L216.40 141.93L216.50 140.86L216.60 139.90L216.70 139.03L216.85 137.88L217.05 136.56L217.30 135.17L217.60 133.79L218.00 132.31L218.60 130.63L219.45 129.02L220.50 127.86L221.55 127.36L222.60 127.36L223.65 127.82L224.70 128.69L225.75 129.99L226.80 131.77L227.85 134.13L228.75 136.78L229.40 139.20L229.85 141.24L230.20 143.11L230.45 144.65L230.65 146.04L230.85 147.61L231.00 148.95L231.10 149.93L231.20 151.00L231.30 152.19L231.40 153.50L231.45 154.22L231.50 154.98L231.55 155.80L231.60 156.69L231.65 157.64L231.70 158.69L231.75 159.84L231.80 161.13L231.85 162.59L231.90 164.26L231.95 166.23L232.00 168.00L232.40 168.00L232.45 166.58L232.50 164.68L232.55 163.08L232.60 161.69L232.65 160.48L232.70 159.40L232.75 158.42L232.80 157.53L232.85 156.72L232.90 155.97L232.95 155.28L233.00 154.63L233.10 153.46L233.20 152.43L233.30 151.50L233.45 150.27L233.60 149.19L233.80 147.95L234.05 146.64L234.40 145.14L234.85 143.62L235.50 141.99L236.50 140.38L237.55 139.48L238.60 139.18L239.65 139.35L240.70 139.95L241.75 140.98L242.80 142.44L243.85 144.42L244.90 147.04L245.70 149.63L246.25 151.84L246.65 153.77L246.95 155.45L247.20 157.05L247.40 158.51L247.55 159.74L247.70 161.10L247.80 162.11L247.90 163.21L248.00 164.43L248.10 165.79L248.15 166.53L248.20 167.33L248.25 168.18L248.30 169.11L248.35 170.12L248.40 171.23L248.45 172.45L248.50 173.83L248.55 175.41L248.60 177.25L248.65 179.46L248.70 181.25L249.05 181.25L249.10 179.35L249.15 177.29L249.20 175.57L249.25 174.11L249.30 172.83L249.35 171.70L249.40 170.68L249.45 169.76L249.50 168.92L249.55 168.15L249.60 167.43L249.65 166.77L249.75 165.56L249.85 164.50L249.95 163.55L250.05 162.69L250.20 161.55L250.40 160.24L250.65 158.86L250.95 157.49L251.35 156.02L251.95 154.35L252.85 152.68L253.90 151.56L254.95 151.09L256.00 151.12L257.05 151.60L258.10 152.49L259.15 153.82L260.20 155.63L261.25 158.03L262.15 160.73L262.75 162.99L263.20 165.03L263.55 166.91L263.80 168.46L264.00 169.86L264.15 171.03L264.30 172.33L264.40 173.28L264.50 174.31L264.60 175.45L264.70 176.71L264.75 177.39L264.80 178.12L264.85 178.90L264.90 179.73L264.95 180.63L265.00 181.61L265.05 182.68L265.10 183.86L265.15 185.18L265.20 186.67L265.25 188.41L265.30 190.46L265.35 193.00L265.40 196.31L265.45 201.10L265.50 213.75L265.55 213.75L265.60 205.15L265.65 198.84L265.70 194.92L265.75 192.09L265.80 189.86L265.85 188.04L265.90 186.49L265.95 185.15L266.00 183.97L266.05 182.91L266.10 181.96L266.15 181.09L266.20 180.29L266.25 179.55L266.30 178.87L266.35 178.24L266.45 177.08L266.55 176.06L266.65 175.14L266.80 173.92L266.95 172.86L267.15 171.63L267.40 170.32L267.75 168.83L268.20 167.32L268.85 165.71L269.85 164.11L270.90 163.22L271.95 162.91L273.00 163.09L274.05 163.70L275.10 164.72L276.15 166.19L277.20 168.17L278.25 170.80L279.05 173.40L279.60 175.62L280.00 177.54L280.30 179.23L280.55 180.84L280.75 182.31L280.90 183.54L281.05 184.91L281.15 185.92L281.25 187.03L281.35 188.26L281.40 188.92L281.45 189.63L281.50 190.38L281.55 191.18L281.60 192.05L281.65 192.98L281.70 194.00L281.75 195.13L281.80 196.37L281.85 197.77L281.90 199.38L281.95 201.26L282.00 203.53L282.05 206.40L282.10 210.31L282.15 210.50L282.30 210.50L282.35 208.58L282.40 205.29L282.45 202.80L282.50 200.79L282.55 199.11L282.60 197.68L282.65 196.42L282.70 195.30L282.75 194.30L282.80 193.39L282.85 192.56L282.90 191.79L282.95 191.09L283.00 190.43L283.10 189.23L283.20 188.18L283.30 187.24L283.45 185.99L283.60 184.90L283.80 183.65L284.05 182.32L284.40 180.81L284.85 179.27L285.50 177.64L286.50 176.02L287.55 175.11L288.60 174.80L289.65 174.97L290.70 175.57L291.75 176.59L292.80 178.05L293.85 180.03L294.90 182.64L295.70 185.24L296.25 187.45L296.65 189.38L296.95 191.06L297.20 192.66L297.40 194.12L297.55 195.35L297.70 196.72L297.80 197.73L297.90 198.83L298.00 200.05L298.05 200.71L298.10 201.41L298.15 202.16L298.20 202.96L298.25 203.82L298.30 204.74L298.35 205.76L298.40 206.87L298.45 208.10L298.50 209.49L298.55 211.07L298.60 212.50L299.15 212.50L299.20 211.10L299.25 209.64L299.30 208.37L299.35 207.25L299.40 206.23L299.45 205.32L299.50 204.48L299.55 203.71L299.60 202.99L299.65 202.33L299.75 201.13L299.85 200.07L299.95 199.12L300.10 197.87L300.25 196.78L300.45 195.52L300.70 194.19L301.00 192.86L301.45 191.28L302.10 189.59L303.05 187.98L304.10 187.00L305.15 186.63L306.20 186.74L307.25 187.29L308.30 188.26L309.35 189.66L310.40 191.56L311.45 194.07L312.30 196.72L312.90 199.07L313.35 201.20L313.65 202.87L313.90 204.46L314.10 205.91L314.25 207.13L314.40 208.48L314.50 209.47L314.60 210.56L314.70 211.76L314.80 213.09L314.85 213.82L314.90 214.60L314.95 215.44L315.00 216.35L315.05 217.33L315.10 218.40L315.15 219.59L315.20 220.92L315.25 222.43L315.30 222.50L315.90 222.50L315.95 222.07L316.00 220.74L316.05 219.56L316.10 218.51L316.15 217.57L316.20 216.70L316.25 215.91L316.30 215.18L316.35 214.50L316.40 213.87L316.50 212.72L316.60 211.70L316.70 210.78L316.85 209.57L317.00 208.51L317.20 207.28L317.45 205.99L317.80 204.50L318.25 203.00L318.90 201.39L319.90 199.81L320.95 198.93L322.00 198.64L323.05 198.84L324.10 199.47L325.15 200.53L326.20 202.04L327.25 204.07L328.30 206.78L329.05 209.30L329.60 211.59L330.00 213.59L330.30 215.35L330.55 217.05L330.75 218.61L330.90 219.93L331.00 220.90L331.10 221.96L331.20 223.12L331.30 224.42L331.35 225.12L331.40 225.87L331.45 226.68L331.50 227.54L331.55 228.48L331.60 229.50L331.65 230.63L331.70 231.88L331.75 233.28L331.80 234.90L331.85 236.79L331.90 239.07L331.95 241.96L332.00 243.75L332.25 243.75L332.30 240.65L332.35 238.17L332.40 236.18L332.45 234.51L332.50 233.08L332.55 231.82L332.60 230.71L332.65 229.71L332.70 228.80L332.75 227.97L332.80 227.21L332.85 226.50L332.90 225.84L333.00 224.65L333.10 223.59L333.20 222.65L333.35 221.40L333.50 220.31L333.70 219.05L333.95 217.72L334.30 216.20L334.75 214.66L335.40 213.00L336.40 211.36L337.45 210.41L338.50 210.05L339.55 210.17L340.60 210.71L341.65 211.65L342.70 213.00L343.75 214.83L344.80 217.22L345.75 220.04L346.40 222.48L346.85 224.52L347.20 226.39L347.45 227.93L347.65 229.31L347.85 230.87L348.00 232.19L348.10 233.15L348.20 234.21L348.30 235.36L348.40 236.64L348.45 237.33L348.50 238.07L348.55 238.86L348.60 239.71L348.65 240.63L348.70 241.63L348.75 242.72L348.80 243.93L348.85 245.28L348.90 246.83L348.95 248.62L349.00 250.76L349.05 251.00L349.45 251.00L349.50 249.36L349.55 247.60L349.60 246.10L349.65 244.80L349.70 243.65L349.75 242.62L349.80 241.68L349.85 240.83L349.90 240.05L349.95 239.33L350.00 238.66L350.10 237.45L350.20 236.39L350.30 235.44L350.40 234.58L350.55 233.44L350.75 232.13L351.00 230.77L351.30 229.41L351.70 227.97L352.25 226.47L353.10 224.90L354.15 223.82L355.20 223.42L356.25 223.57L357.30 224.21L358.35 225.33L359.40 226.96L360.45 229.23L361.30 231.69L361.90 233.90L362.35 235.93L362.65 237.52L362.90 239.05L363.10 240.44L363.25 241.60L363.40 242.90L363.50 243.86L363.60 244.91L363.70 246.06L363.80 247.35L363.85 248.05L363.90 248.80L363.95 249.60L364.00 250.46L364.05 251.40L364.10 252.43L364.15 253.55L364.20 254.81L364.25 256.23L364.30 257.86L364.35 259.78L364.40 260.00L364.85 260.00L364.90 258.65L364.95 257.00L365.00 255.58L365.05 254.34L365.10 253.23L365.15 252.23L365.20 251.33L365.25 250.49L365.30 249.73L365.35 249.02L365.40 248.36L365.50 247.15L365.60 246.09L365.70 245.13L365.85 243.86L366.00 242.75L366.20 241.46L366.45 240.09L366.80 238.51L367.25 236.89L367.90 235.11L368.95 233.18L370.00 232.03L371.05 231.42L372.10 231.24L373.15 231.41L374.20 231.91L375.25 232.71L376.30 233.79L377.35 235.18L378.40 236.88L379.45 238.93L380.50 241.37L381.55 244.30L382.60 247.82L383.50 251.50L384.15 254.66L384.65 257.51L385.00 259.78L385.30 261.96L385.55 264.00L385.75 265.82L385.90 267.31L385.95 267.40L387.00 267.40L388.05 267.40L389.10 267.40L390.15 267.40L391.20 267.40L392.00 267.40L392.05 267.21L392.30 265.39L392.60 263.48L393.00 261.27L393.55 258.70L394.35 255.69L395.40 252.61L396.45 250.23L397.50 248.37L398.55 246.91L399.60 245.77L400.65 244.90L401.70 244.25L402.75 243.80L403.80 243.51L404.85 243.38L405.90 243.37L406.95 243.48L408.00 243.68L409.05 243.96L410.10 244.31L411.15 244.70L412.20 245.13L413.25 245.57L414.30 246.00L415.35 246.42L416.40 246.79L417.45 247.12L417.55 247.15" stroke="#00ff00" stroke-width="2.6" stroke-dasharray="3 1.9"/>
</g>
<path d="M43.2 -1V264.0" fill="none" stroke="#9c9c9c" stroke-width="1.4"/>
<path d="M42.5 263.34999999999997H418.15000000000003" fill="none" stroke="#757575" stroke-width="1.05"/>
<path d="M417.55 263.4V-1" fill="none" stroke="#8e8e8e" stroke-width="1.05"/>
<path d="M43.20 263.4v-4.7M43.20 -0.4v4.7M61.92 263.4v-3.0M61.92 -0.4v3.0M80.64 263.4v-3.0M80.64 -0.4v3.0M99.35 263.4v-3.0M99.35 -0.4v3.0M118.07 263.4v-3.0M118.07 -0.4v3.0M136.79 263.4v-4.7M136.79 -0.4v4.7M155.50 263.4v-3.0M155.50 -0.4v3.0M174.22 263.4v-3.0M174.22 -0.4v3.0M192.94 263.4v-3.0M192.94 -0.4v3.0M211.66 263.4v-3.0M211.66 -0.4v3.0M230.38 263.4v-4.7M230.38 -0.4v4.7M249.09 263.4v-3.0M249.09 -0.4v3.0M267.81 263.4v-3.0M267.81 -0.4v3.0M286.53 263.4v-3.0M286.53 -0.4v3.0M305.25 263.4v-3.0M305.25 -0.4v3.0M323.96 263.4v-4.7M323.96 -0.4v4.7M342.68 263.4v-3.0M342.68 -0.4v3.0M361.40 263.4v-3.0M361.40 -0.4v3.0M380.12 263.4v-3.0M380.12 -0.4v3.0M398.83 263.4v-3.0M398.83 -0.4v3.0M417.55 263.4v-4.7M417.55 -0.4v4.7" fill="none" stroke="#5c5c5c" stroke-width="0.9"/>
<path d="M43.2 18.40h3.6M417.55 18.40h-3.6M43.2 42.90h2.0M417.55 42.90h-2.0M43.2 67.40h3.6M417.55 67.40h-3.6M43.2 91.90h2.0M417.55 91.90h-2.0M43.2 116.40h3.6M417.55 116.40h-3.6M43.2 140.90h2.0M417.55 140.90h-2.0M43.2 165.40h3.6M417.55 165.40h-3.6M43.2 189.90h2.0M417.55 189.90h-2.0M43.2 214.40h3.6M417.55 214.40h-3.6M43.2 238.90h2.0M417.55 238.90h-2.0M43.2 263.40h3.6M417.55 263.40h-3.6" fill="none" stroke="#9a9a9a" stroke-width="0.6"/>
<path d="M43.2 -0.35H417.55" fill="none" stroke="#8c8c8c" stroke-width="1"/>
<text transform="translate(32.77 22.20) scale(0.92 1.08)" text-anchor="end" class="ser" font-size="10.5">10</text><text transform="translate(39.40 17.90) scale(1.0 1.05)" text-anchor="end" class="ser" font-size="7">-2</text><text transform="translate(32.77 71.20) scale(0.92 1.08)" text-anchor="end" class="ser" font-size="10.5">10</text><text transform="translate(39.40 66.90) scale(1.0 1.05)" text-anchor="end" class="ser" font-size="7">-4</text><text transform="translate(32.77 120.20) scale(0.92 1.08)" text-anchor="end" class="ser" font-size="10.5">10</text><text transform="translate(39.40 115.90) scale(1.0 1.05)" text-anchor="end" class="ser" font-size="7">-6</text><text transform="translate(32.77 169.20) scale(0.92 1.08)" text-anchor="end" class="ser" font-size="10.5">10</text><text transform="translate(39.40 164.90) scale(1.0 1.05)" text-anchor="end" class="ser" font-size="7">-8</text><text transform="translate(29.27 218.20) scale(0.92 1.08)" text-anchor="end" class="ser" font-size="10.5">10</text><text transform="translate(39.40 213.90) scale(1.0 1.05)" text-anchor="end" class="ser" font-size="7">-10</text><text transform="translate(29.27 267.20) scale(0.92 1.08)" text-anchor="end" class="ser" font-size="10.5">10</text><text transform="translate(39.40 262.90) scale(1.0 1.05)" text-anchor="end" class="ser" font-size="7">-12</text>
<text transform="translate(43.10 276.1) scale(0.92 1.1)" text-anchor="middle" class="ser" font-size="10.5">0</text><text transform="translate(136.69 276.1) scale(0.92 1.1)" text-anchor="middle" class="ser" font-size="10.5">50</text><text transform="translate(230.28 276.1) scale(0.92 1.1)" text-anchor="middle" class="ser" font-size="10.5">100</text><text transform="translate(323.86 276.1) scale(0.92 1.1)" text-anchor="middle" class="ser" font-size="10.5">150</text><text transform="translate(417.45 276.1) scale(0.92 1.1)" text-anchor="middle" class="ser" font-size="10.5">200</text>
<!-- legend -->
<path d="M148.9 152H159.7V250.3H73.1V237.8H148.9Z" fill="#000"/>
<rect x="62.4" y="139.6" width="86.5" height="98.2" fill="#fff" stroke="#8c8c8c" stroke-width="0.8"/>
<path d="M66.5 157.45H90.5" stroke="#4040ff" stroke-width="0.9" fill="none"/>
<path d="M66.2 188.6H90.2" stroke="#ff3333" stroke-width="0.9" stroke-dasharray="3.8 1 1 1" fill="none"/>
<path d="M65.85 219.7H89.4" stroke="#00ff00" stroke-width="2.8" stroke-dasharray="3.1 1.9" fill="none"/>
<g class="san" font-size="8.6">
<text transform="translate(96.5 160.8) scale(1 1.2)"><tspan font-style="italic">r</tspan><tspan font-style="italic" font-size="6.4" dy="1.75" dx="-0.85">H</tspan><tspan font-size="4.2" dy="0.25" dx="0.25">1</tspan><tspan dy="-2.0" dx="1.9">=1</tspan></text>
<text transform="translate(96.5 192.6) scale(1 1.2)"><tspan font-style="italic">r</tspan><tspan font-style="italic" font-size="6.4" dy="1.75" dx="-0.85">H</tspan><tspan font-size="4.2" dy="0.25" dx="0.25">2</tspan><tspan dy="-2.0" dx="1.9">=1.3</tspan></text>
<text transform="translate(96.5 223.5) scale(1 1.2)"><tspan font-style="italic">r</tspan><tspan font-style="italic" font-size="6.4" dy="1.75" dx="-0.85">H</tspan><tspan font-size="4.2" dy="0.25" dx="0.25">3</tspan><tspan dy="-2.0" dx="1.9">=1.8</tspan></text>
</g>
<text class="san" font-size="12.5" font-weight="bold" font-style="italic" transform="translate(231.3 300.9) scale(1 1.3)" text-anchor="middle">v</text>
<path d="M0.7 123.5H12.7M0.7 139.5H12.7" stroke="#000" stroke-width="1.3" fill="none"/>
<path d="M3.3 126.9L6.6 127.7C9.6 128.4 10.2 130.2 10.1 132C10 134.2 9.2 135.7 6.8 135.4L3.3 134.8M3 130.4L12.4 132.6" stroke="#000" stroke-width="1.8" fill="none"/>
</svg>
</body></html>
